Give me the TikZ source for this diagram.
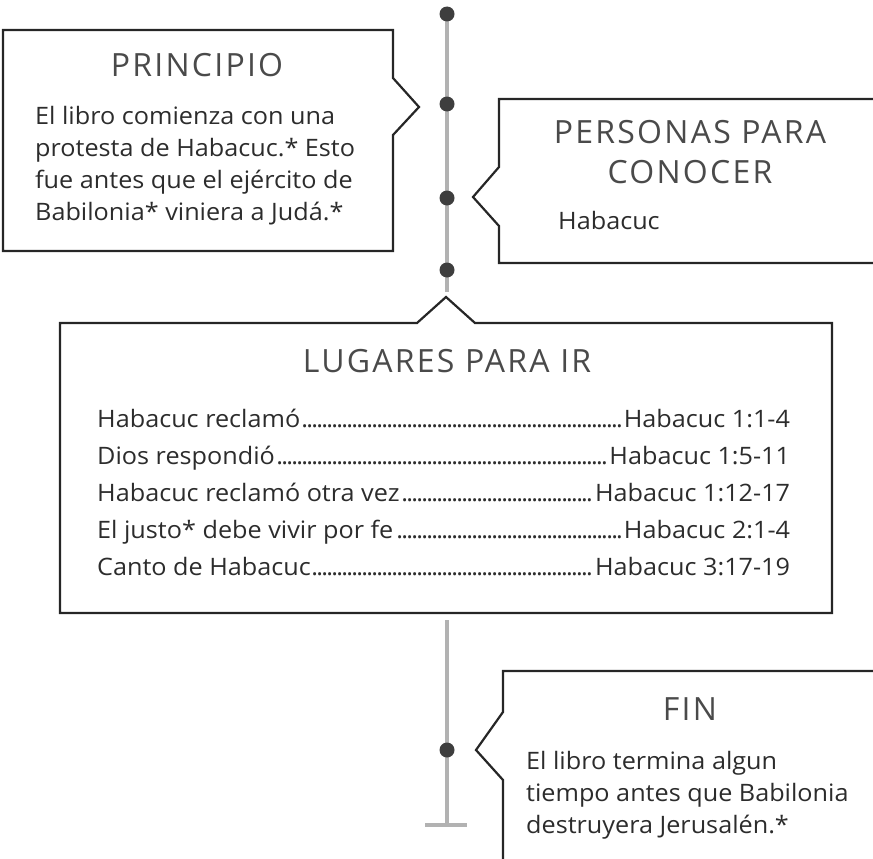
\documentclass[tikz,border=0pt]{standalone}
\usepackage{fontspec}
\usetikzlibrary{backgrounds}
\setmainfont[FakeStretch=1.05]{Open Sans}
\newfontfamily\headfont[LetterSpace=7]{Open Sans}
\definecolor{ink}{HTML}{2C2C2C}
\definecolor{headgray}{HTML}{4A4A4A}
\definecolor{railgray}{HTML}{B2B2B2}
\definecolor{dotgray}{HTML}{3E3E3E}
\definecolor{boxline}{HTML}{262626}
\tikzset{
  callout/.style={draw=boxline, line width=2.2pt, line join=miter},
  rail/.style={draw=railgray, line width=4pt},
  dot/.style={circle, fill=dotgray, inner sep=0pt, minimum size=15pt},
  head/.style={text=headgray, font=\headfont\fontsize{32}{40}\selectfont, align=center, anchor=base, inner sep=0pt},
  body/.style={text=ink, font=\fontsize{24}{32}\selectfont, align=left, anchor=base west, inner sep=0pt}
}
\newcommand{\leaderdots}{\leaders\hbox to 5pt{\hss.\hss}\hfill}
\begin{document}
\begin{tikzpicture}[x=1pt, y=-1pt]
  \useasboundingbox (0,0) rectangle (873,859);
  \clip (0,0) rectangle (873,859);

  % timeline
  \node[dot] (d1) at (447,14) {};
  \node[dot] (d2) at (447,104) {};
  \node[dot] (d3) at (447,198) {};
  \node[dot] (d4) at (447,270) {};
  \node[dot] (d5) at (447,750) {};
  \coordinate (railend) at (447,292);
  \coordinate (railtop) at (447,620);
  \coordinate (railfoot) at (447,825);
  \begin{pgfonlayer}{background}
    \draw[rail] (d1.center) -- (railend);
    \draw[rail] (railtop) -- (railfoot);
    \draw[rail] ([xshift=-22pt]railfoot) -- ([xshift=20pt]railfoot);
  \end{pgfonlayer}

  % principio
  \draw[callout] (3,30) -- (393,30) -- (393,78) -- (419,107) -- (393,135)
    -- (393,251) -- (3,251) -- cycle;
  \node[head] (principio) at (197,77) {PRINCIPIO};
  \node[body] (principiotext) at (35,220) {El libro comienza con una\\
    protesta de Habacuc.* Esto\\ fue antes que el ejército de\\
    Babilonia* viniera a Judá.*};

  % personas
  \draw[callout] (880,99) -- (499,99) -- (499,167) -- (473,197) -- (499,226)
    -- (499,263) -- (880,263);
  \node[head] (personas) at (690,183) {PERSONAS PARA\\CONOCER};
  \node[body] (personastext) at (558,229) {Habacuc};

  % lugares
  \draw[callout] (60,323) -- (417,323) -- (446,297) -- (475,323) -- (832,323)
    -- (832,613) -- (60,613) -- cycle;
  \node[head] (lugares) at (447,372) {LUGARES PARA IR};
  \foreach \place/\verse [count=\i] in {Habacuc reclamó/Habacuc 1:1-4,
      Dios respondió/Habacuc 1:5-11, Habacuc reclamó otra vez/Habacuc 1:12-17,
      El justo* debe vivir por fe/Habacuc 2:1-4, Canto de Habacuc/Habacuc 3:17-19}
    \node[body] (row\i) at (97,{427+37*(\i-1)})
      {\makebox[693pt][s]{\place\leaderdots\verse}};

  % fin
  \draw[callout] (880,671) -- (503,671) -- (503,712) -- (476,750) -- (503,780)
    -- (503,870);
  \node[head] (fin) at (690,720) {FIN};
  \node[body] (fintext) at (526,833) {El libro termina algun\\
    tiempo antes que Babilonia\\ destruyera Jerusalén.*};
\end{tikzpicture}
\end{document}
